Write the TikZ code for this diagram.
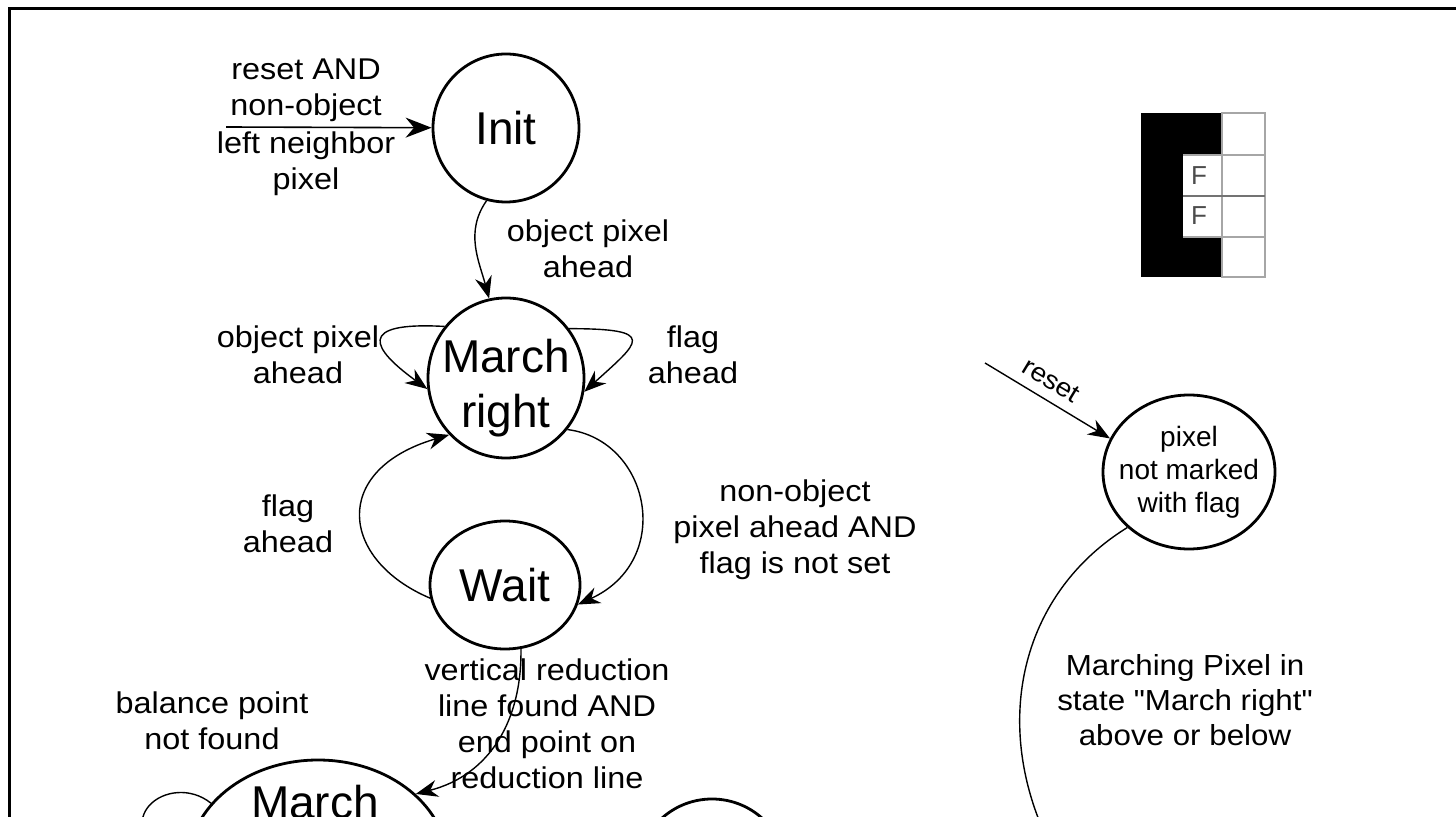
\documentclass[tikz,border=0pt]{standalone}
\usepackage{fontspec}
\setmainfont{Liberation Sans}
\newfontfamily\lblfont{Liberation Sans}[FakeStretch=1.08]
\usetikzlibrary{shapes.geometric, arrows.meta}
\begin{document}
\begin{tikzpicture}[x=0.5pt, y=-0.5pt,
  state/.style={draw, line width=1.4pt, ellipse, inner sep=0pt},
  stext/.style={inner sep=0pt, align=center, font=\fontsize{23pt}{27.5pt}\selectfont},
  bigtext/.style={inner sep=0pt, font=\fontsize{23pt}{27.5pt}\selectfont},
  lbl/.style={font=\lblfont\fontsize{15pt}{18pt}\selectfont, align=center, inner sep=0pt},
  conn/.style={draw, line width=0.7pt, -{Stealth[length=11pt, width=8.5pt]}},
  bigconn/.style={draw, line width=0.8pt, -{Stealth[length=13pt, width=10pt]}},
  plainconn/.style={draw, line width=0.7pt},
  cell/.style={draw=black!35, line width=0.6pt},
]
\useasboundingbox (0,0) rectangle (1456,817);
\clip (0,0) rectangle (1456,817);

% frame
\draw[line width=1.5pt] (9,817) -- (9,9) -- (1456,9);

% states
\node[state, minimum width=73pt, minimum height=74pt,
      label={[stext]center:Init}] (init) at (506,128) {};
\node[state, minimum width=78pt, minimum height=80pt,
      label={[stext, yshift=-5pt]center:{March\\right}}] (mr) at (506,378) {};
\node[state, minimum width=75pt, minimum height=64pt,
      label={[stext]center:Wait}] (wait) at (505,585) {};
\node[state, minimum width=130pt, minimum height=105pt] (mb) at (318,865) {};
\node[bigtext] (mbtext) at (315,802) {March};
\node[state, minimum width=75pt, minimum height=75pt] (c5) at (712,874) {};
\node[state, minimum width=86pt, minimum height=77pt,
      label={[stext, font=\fontsize{14pt}{16.5pt}\selectfont]center:{pixel\\not marked\\with flag}}] (pix) at (1189,472) {};

% connectors
\coordinate (in0) at (226,127);
\draw[bigconn] (in0) -- (init);
\node[lbl, anchor=south] (l1a) at (306,122) {reset AND\\non-object};
\node[lbl, anchor=north] (l1b) at (306,131) {left neighbor\\pixel};

\draw[conn] (init.255) to[out=235, in=105] (mr.102);
\node[lbl] (l2) at (588,249) {object pixel\\ahead};

\draw[conn] (mr.140) .. controls +(-90,-5) and +(-55,-40) .. (mr.188);
\node[lbl] (l3) at (298,355) {object pixel\\ahead};

\draw[conn] (mr.38) .. controls +(90,0) and +(55,-50) .. (mr.-10);
\node[lbl] (l4) at (693,355) {flag\\ahead};

\draw[conn] (mr.-40) .. controls (650,440) and (675,560) .. (wait.-15);
\node[lbl] (l5) at (795,530) {non-object\\pixel ahead AND\\flag is not set};

\draw[conn] (wait.190) .. controls (340,560) and (330,470) .. (mr.225);
\node[lbl] (l6) at (288,524) {flag\\ahead};

\draw[conn] (wait.-76) .. controls (522,720) and (490,775) .. (mb.36);
\node[lbl] (l7) at (547,724) {vertical reduction\\line found AND\\end point on\\reduction line};

\draw[conn] (mb.150) .. controls (170,770) and (100,820) .. (mb.185);
\node[lbl] (l8) at (212,721) {balance point\\not found};

\coordinate (r0) at (985,363);
\draw[conn] (r0) -- (pix.157) node[pos=0.45, above=5pt, sloped, lbl, font=\lblfont\fontsize{13pt}{15pt}\selectfont] (l9) {reset};

\coordinate (a1) at (1070,880);
\draw[plainconn] (pix.222) .. controls (1010,600) and (985,750) .. (a1);
\node[lbl, font=\lblfont\fontsize{14.5pt}{17.5pt}\selectfont] (l10) at (1185,700)
  {Marching Pixel in\\state \symbol{34}March right\symbol{34}\\above or below};

% pixel grid
\fill[black] (1141,113) rectangle (1222,277);
\fill[white] (1183,155) rectangle (1222,237);
\draw[cell] (1222,113) rectangle (1265,277);
\draw[cell] (1183,155) -- (1265,155);
\draw[draw=black!55, line width=0.6pt] (1183,196) -- (1265,196);
\draw[cell] (1183,237) -- (1265,237);
\node[inner sep=0pt, text=black!70, font=\fontsize{13pt}{15pt}\selectfont] (f1) at (1199,176) {F};
\node[inner sep=0pt, text=black!70, font=\fontsize{13pt}{15pt}\selectfont] (f2) at (1199,216) {F};
\end{tikzpicture}
\end{document}
